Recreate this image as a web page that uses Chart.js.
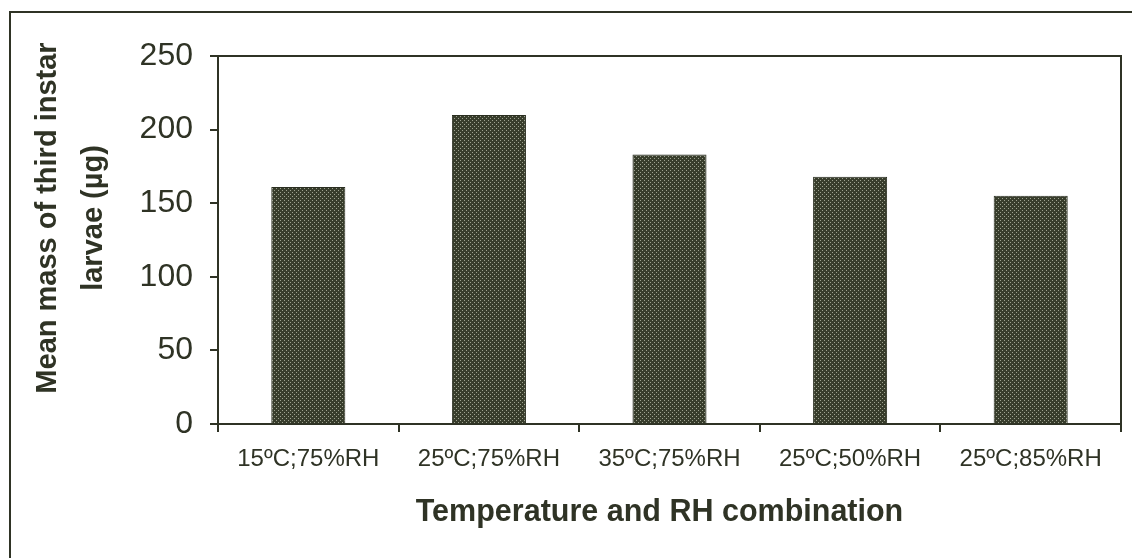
<!DOCTYPE html>
<html>
<head>
<meta charset="utf-8">
<script src="https://cdn.jsdelivr.net/npm/chart.js@4"></script>
<style>
  body { margin: 0; background: #fff; }
  #wrap { position: relative; width: 1132px; height: 558px; overflow: hidden; }
  #frame {
    position: absolute; left: 9px; top: 11px; width: 1200px; height: 600px;
    border-left: 2px solid #2f3325; border-top: 2px solid #2f3325;
  }
  canvas { position: absolute; left: 0; top: 0; }
</style>
</head>
<body>
<div id="wrap">
  <div id="frame"></div>
  <canvas id="massChart" width="1132" height="558"></canvas>
</div>
<script>
// data
const conditions = ["15ºC;75%RH", "25ºC;75%RH", "35ºC;75%RH", "25ºC;50%RH", "25ºC;85%RH"];
const meanMass = [161, 210, 183, 168, 155];
const yTicks = [0, 50, 100, 150, 200, 250];
const xTitle = "Temperature and RH combination";
const yTitle = ["Mean mass of third instar", "larvae (µg)"];

const ink = "#2f3325";

// stippled fill like the printed bars
function stipple() {
  const c = document.createElement("canvas");
  c.width = 4;
  c.height = 4;
  const g = c.getContext("2d");
  g.fillStyle = "#383d2c";
  g.fillRect(0, 0, 4, 4);
  g.fillStyle = "#9ea290";
  g.fillRect(0, 0, 1, 1);
  g.fillRect(2, 2, 1, 1);
  return g.createPattern(c, "repeat");
}

// outline of the plot area (top and right edges)
const plotFrame = {
  id: "plotFrame",
  afterDatasetsDraw(chart) {
    const { ctx, chartArea: a } = chart;
    ctx.save();
    ctx.strokeStyle = ink;
    ctx.lineWidth = 2;
    ctx.strokeRect(a.left, a.top, a.right - a.left, a.bottom - a.top);
    ctx.restore();
  },
};

// axis titles sit a little off-centre in the original, so draw them here
const axisTitles = {
  id: "axisTitles",
  afterDraw(chart) {
    const { ctx, chartArea: a } = chart;
    const midX = (a.left + a.right) / 2;
    const midY = (a.top + a.bottom) / 2;
    ctx.save();
    ctx.fillStyle = ink;
    ctx.textAlign = "center";
    ctx.textBaseline = "middle";

    ctx.font = "bold 30.5px 'Liberation Sans'";
    ctx.fillText(xTitle, midX - 10, 513);

    ctx.font = "bold 29px 'Liberation Sans'";
    ctx.translate(0, midY - 22);
    ctx.rotate(-Math.PI / 2);
    yTitle.forEach((line, i) => ctx.fillText(line, 0, 48 + i * 46));
    ctx.restore();
  },
};

const ctx = document.getElementById("massChart").getContext("2d");
new Chart(ctx, {
  type: "bar",
  data: {
    labels: conditions,
    datasets: [
      {
        label: "Mean mass",
        data: meanMass,
        backgroundColor: stipple(),
        borderColor: "#2a2e20",
        borderWidth: 1,
        barPercentage: 0.41,
        categoryPercentage: 1,
      },
    ],
  },
  options: {
    responsive: false,
    animation: false,
    layout: { padding: { left: 0, top: 56, right: 11, bottom: 0 } },
    plugins: { legend: { display: false }, tooltip: { enabled: false } },
    scales: {
      x: {
        afterFit: (s) => { s.height = 558 - 424; },
        border: { color: ink, width: 2 },
        grid: { display: true, offset: true, drawOnChartArea: false, tickLength: 8, color: ink, lineWidth: 2 },
        ticks: { color: ink, padding: 13, maxRotation: 0, font: { family: "Liberation Sans", size: 24 } },
      },
      y: {
        min: 0,
        max: 250,
        afterFit: (s) => { s.width = 218; },
        afterBuildTicks: (s) => { s.ticks = yTicks.map((v) => ({ value: v })); },
        border: { color: ink, width: 2 },
        grid: { display: true, drawOnChartArea: false, tickLength: 8, color: ink, lineWidth: 2 },
        ticks: { color: ink, padding: 17, font: { family: "Liberation Sans", size: 32 } },
      },
    },
  },
  plugins: [plotFrame, axisTitles],
});
</script>
</body>
</html>
